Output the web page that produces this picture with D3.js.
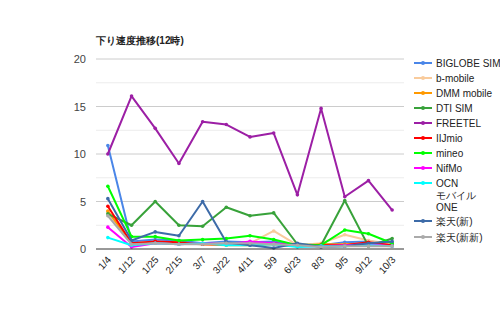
<!DOCTYPE html>
<html>
<head>
<meta charset="utf-8">
<script src="https://cdn.jsdelivr.net/npm/d3@7"></script>
<style>
  body { margin: 0; background: #fff; }
  svg { display: block; font-family: "Liberation Sans", Arial, sans-serif; }
</style>
</head>
<body>
<div id="chart"></div>
<script>
// dates on the x axis
const dates = ['1/4', '1/12', '1/25', '2/15', '3/7', '3/22', '4/11', '5/9', '6/23', '8/3', '9/5', '9/12', '10/3'];

const seriesNames = ['BIGLOBE SIM', 'b-mobile', 'DMM mobile', 'DTI SIM', 'FREETEL', 'IIJmio', 'mineo', 'NifMo', 'OCN モバイル ONE', '楽天(新)', '楽天(新新)'];

const biglobe  = [10.9, 0.8, 1.0, 0.9, 0.6, 0.8, 0.7, 0.8, 0.4, 0.4, 0.7, 0.8, 0.6];
const bmobile  = [3.9, 0.6, 0.7, 0.6, 0.5, 0.6, 0.6, 1.9, 0.4, 0.6, 1.5, 0.9, 0.5];
const dmm      = [4.0, 0.6, 0.7, 0.6, 0.5, 0.4, 0.4, 0.5, 0.3, 0.5, 0.5, 0.6, 0.4];
const dti      = [3.7, 2.5, 5.0, 2.5, 2.4, 4.4, 3.5, 3.8, 0.5, 0.4, 5.1, 0.3, 1.1];
const freetel  = [10.0, 16.1, 12.7, 9.0, 13.4, 13.1, 11.8, 12.2, 5.7, 14.8, 5.5, 7.2, 4.1];
const iijmio   = [4.5, 0.6, 0.8, 0.7, 0.5, 0.5, 0.5, 0.6, 0.3, 0.4, 0.4, 0.7, 0.4];
const mineo    = [6.6, 1.3, 1.3, 0.9, 1.0, 1.1, 1.4, 1.0, 0.4, 0.4, 2.0, 1.6, 0.6];
const nifmo    = [2.3, 0.2, 0.6, 0.5, 0.6, 0.5, 0.8, 0.6, 0.3, 0.3, 0.4, 0.5, 0.3];
const ocn      = [1.2, 0.4, 0.6, 0.5, 0.6, 0.4, 0.4, 0.5, 0.2, 0.3, 0.3, 0.4, 0.3];
const rakuten  = [5.3, 0.9, 1.8, 1.4, 5.0, 0.7, 0.4, 0.1, 0.6, 0.2, 0.3, 0.6, 0.8];
const rakuten2 = [3.5, 0.5, 0.6, 0.5, 0.5, 0.6, 0.6, 0.5, 0.4, 0.2, 0.3, 0.3, 0.3];

const yTicks = [0, 5, 10, 15, 20];

const colors = ['#4a86e8', '#f9cb9c', '#ff9900', '#38a23a', '#9c1fa5', '#ff0000', '#00ff00', '#ff00ff', '#00ffff', '#3d6ba8', '#aaaaaa'];

const allValues = [biglobe, bmobile, dmm, dti, freetel, iijmio, mineo, nifmo, ocn, rakuten, rakuten2];
const series = seriesNames.map((name, i) => ({
    name,
    color: colors[i],
    values: allValues[i].map((v, j) => ({ date: dates[j], value: v }))
}));

const width = 500, height = 309;
const margin = { top: 59, right: 96, bottom: 60, left: 96 };
const innerWidth = width - margin.left - margin.right;
const innerHeight = height - margin.top - margin.bottom;

const svg = d3.select('#chart').append('svg')
    .attr('width', width)
    .attr('height', height);

svg.append('text')
    .attr('x', 96)
    .attr('y', 44)
    .attr('font-size', 10)
    .attr('font-weight', 'bold')
    .attr('fill', '#222')
    .text('下り速度推移(12時)');

const plot = svg.append('g')
    .attr('transform', `translate(${margin.left},${margin.top})`);

const xScale = d3.scalePoint()
    .domain(dates)
    .range([0, innerWidth])
    .padding(0.5);

const yScale = d3.scaleLinear()
    .domain([0, 20])
    .range([innerHeight, 0]);

// gridlines: major every 5, minor every 2.5
plot.append('g')
    .selectAll('line')
    .data(d3.range(2.5, 20, 5))
    .enter()
    .append('line')
    .attr('x1', 0).attr('x2', innerWidth)
    .attr('y1', d => yScale(d)).attr('y2', d => yScale(d))
    .attr('stroke', '#ececec');

plot.append('g')
    .selectAll('line')
    .data(yTicks.filter(d => d > 0))
    .enter()
    .append('line')
    .attr('x1', 0).attr('x2', innerWidth)
    .attr('y1', d => yScale(d)).attr('y2', d => yScale(d))
    .attr('stroke', '#cccccc');

const yAxis = plot.append('g')
    .call(d3.axisLeft(yScale).tickValues(yTicks).tickSize(0).tickPadding(10));
yAxis.select('.domain').remove();
yAxis.selectAll('text')
    .attr('font-size', 11)
    .attr('fill', '#444')
    .attr('font-family', '"Liberation Sans", Arial, sans-serif');

const line = d3.line()
    .x(d => xScale(d.date))
    .y(d => yScale(d.value));

const seriesGroups = plot.selectAll('.series')
    .data(series)
    .enter()
    .append('g')
    .attr('class', 'series');

seriesGroups.append('path')
    .attr('fill', 'none')
    .attr('stroke', d => d.color)
    .attr('stroke-width', 2)
    .attr('stroke-linejoin', 'round')
    .attr('d', d => line(d.values));

seriesGroups.selectAll('circle')
    .data(d => d.values.map(v => ({ ...v, color: d.color })))
    .enter()
    .append('circle')
    .attr('cx', d => xScale(d.date))
    .attr('cy', d => yScale(d.value))
    .attr('r', 1.8)
    .attr('fill', d => d.color);

// baseline
plot.append('line')
    .attr('x1', 0).attr('x2', innerWidth)
    .attr('y1', innerHeight).attr('y2', innerHeight)
    .attr('stroke', '#333')
    .attr('stroke-width', 1);

// x labels, rotated, ending just below each point
plot.append('g')
    .selectAll('text')
    .data(dates)
    .enter()
    .append('text')
    .attr('font-size', 10)
    .attr('fill', '#222')
    .attr('text-anchor', 'end')
    .attr('transform', d => `translate(${xScale(d) + 4},${innerHeight + 11}) rotate(-48)`)
    .text(d => d);

// legend
const legendRows = [63, 78, 93, 108, 123, 138, 153, 168, 183, 221, 237];
const legend = svg.append('g');
const items = legend.selectAll('.legend-item')
    .data(series)
    .enter()
    .append('g')
    .attr('class', 'legend-item')
    .attr('transform', (d, i) => `translate(414,${legendRows[i]})`);

items.append('line')
    .attr('x1', 0).attr('x2', 18)
    .attr('stroke', d => d.color)
    .attr('stroke-width', 2);
items.append('circle')
    .attr('cx', 9).attr('r', 2)
    .attr('fill', d => d.color);

items.each(function(d) {
    const t = d3.select(this).append('text')
        .attr('x', 22)
        .attr('y', 4)
        .attr('font-size', 10)
        .attr('fill', '#222');
    // only the OCN entry wraps onto several lines
    const parts = d.name.startsWith('OCN') ? d.name.split(' ') : [d.name];
    parts.forEach((part, k) => {
        t.append('tspan').attr('x', 22).attr('dy', k === 0 ? 0 : 12).text(part);
    });
});
</script>
</body>
</html>
